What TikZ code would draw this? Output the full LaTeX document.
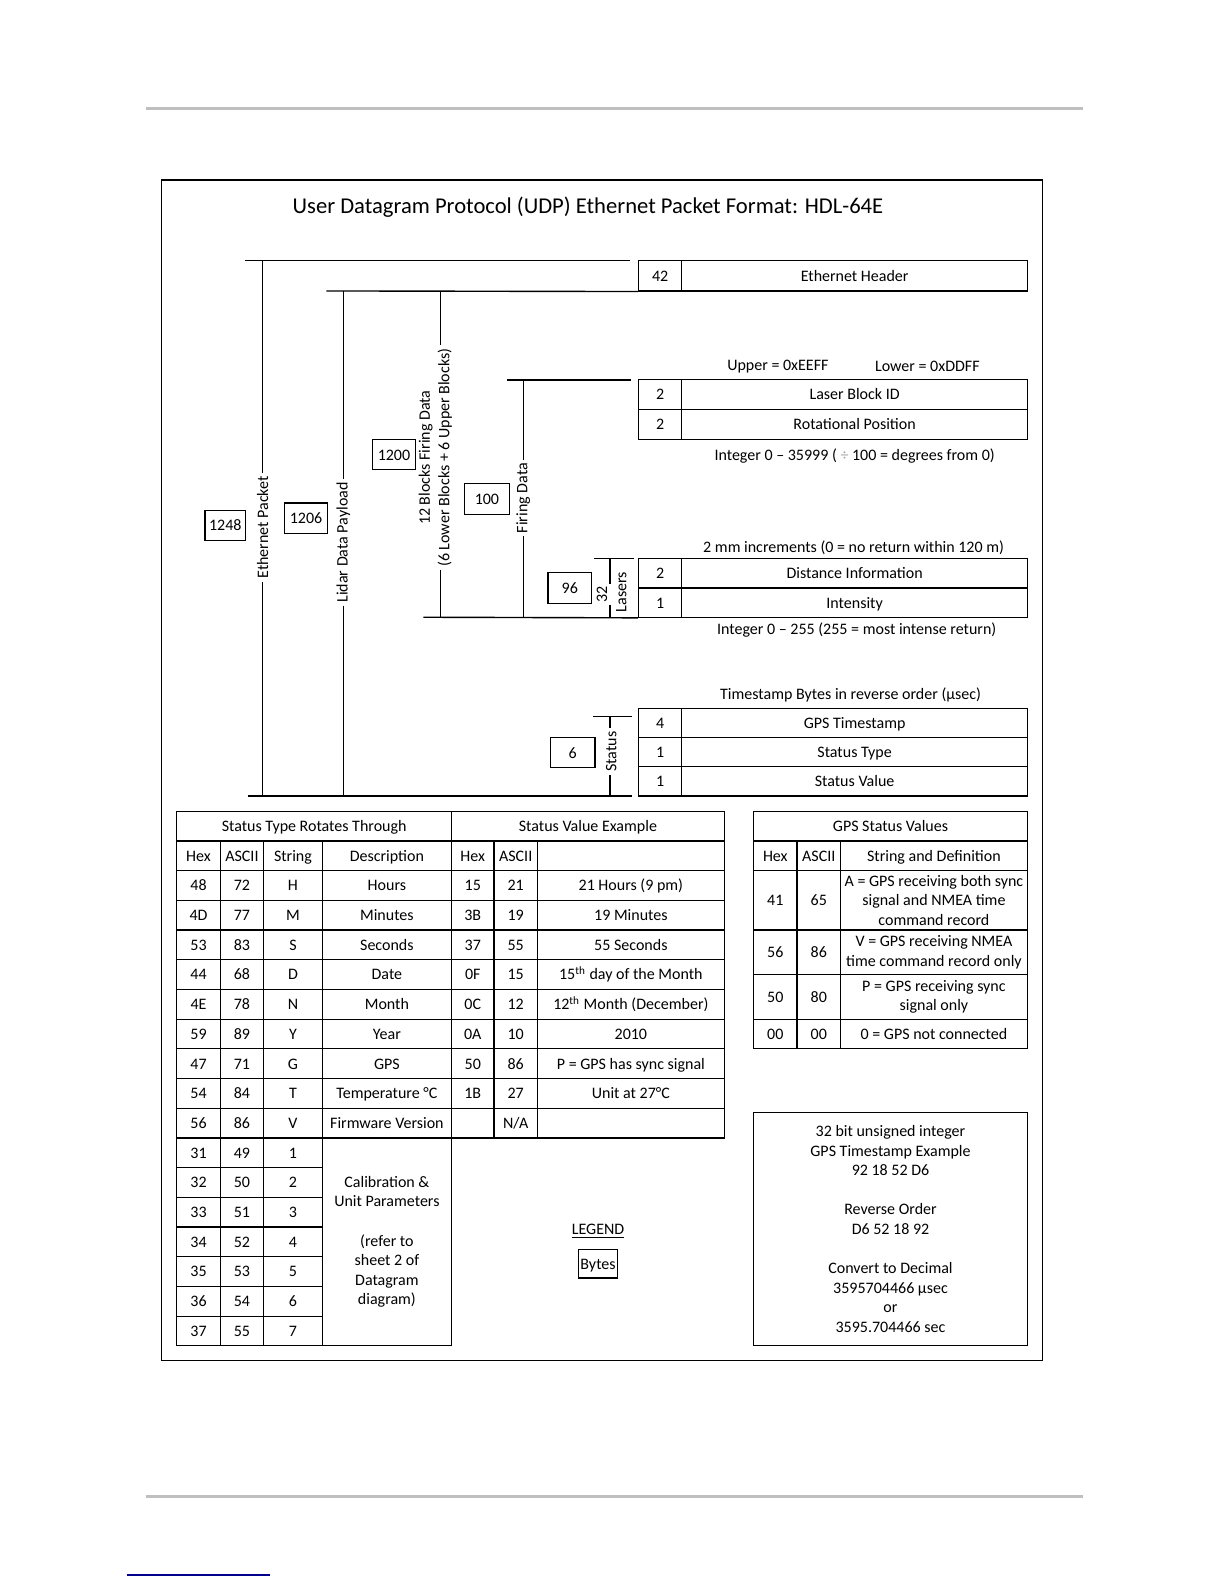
\documentclass[tikz,border=0pt]{standalone}
\usepackage{fontspec}
\setmainfont{Carlito}
\newcommand\fs{\fontsize{8bp}{9.8bp}\selectfont}
\newcommand\mycell[6]{\node[tcell, minimum width={((#4)-(#2))*0.505bp}, minimum height={((#5)-(#3))*0.505bp}] (#1) at ({((#2)+(#4))/2},{((#3)+(#5))/2}) {#6};}
\newcommand\mcell[6]{\node[tcellm, minimum width={((#4)-(#2))*0.505bp}, minimum height={((#5)-(#3))*0.505bp}] (#1) at ({((#2)+(#4))/2},{((#3)+(#5))/2}) {#6};}
\newcommand\trow[8]{%
\pgfmathsetmacro\ya{803+29.4*#1}%
\pgfmathsetmacro\yb{803+29.4*(#1+1)}%
\mycell{r#1a}{175}{\ya}{218}{\yb}{#2}%
\mycell{r#1b}{218}{\ya}{261}{\yb}{#3}%
\mycell{r#1c}{261}{\ya}{319}{\yb}{#4}%
\mycell{r#1d}{319}{\ya}{447}{\yb}{#5}%
\mycell{r#1e}{447}{\ya}{489}{\yb}{#6}%
\mycell{r#1f}{489}{\ya}{532}{\yb}{#7}%
\mycell{r#1g}{532}{\ya}{717}{\yb}{#8}%
}
\newcommand\srow[4]{%
\pgfmathsetmacro\ya{803+29.4*#1}%
\pgfmathsetmacro\yb{803+29.4*(#1+1)}%
\mycell{r#1a}{175}{\ya}{218}{\yb}{#2}%
\mycell{r#1b}{218}{\ya}{261}{\yb}{#3}%
\mycell{r#1c}{261}{\ya}{319}{\yb}{#4}%
}
\begin{document}
\begin{tikzpicture}[x=0.505bp,y=-0.505bp,
  tcellm/.style={draw, line width=0.6pt, inner sep=0pt, align=center, font=\fs},
  tcell/.style={tcellm, text height=6.6bp, text depth=1.2bp},
  lbl/.style={font=\fs, inner sep=0pt, align=center},
  conn/.style={line width=0.7pt},
  rlbl/.style={font=\fs, rotate=90, inner sep=1.5pt, align=center},
  numbox/.style={draw, line width=0.6pt, font=\fs, inner sep=0pt, minimum height={30*0.505bp}, text height=6.6bp, text depth=1.2bp},
  rule/.style={color=black!25, line width=1.4bp}]
\fill[white] (0,0) rectangle (1212,1568);
\useasboundingbox (0,0) rectangle (1212,1568);

% page rules
\coordinate (hr1) at (145,107); \coordinate (hr2) at (1072,107);
\coordinate (fr1) at (145,1481); \coordinate (fr2) at (1072,1481);
\coordinate (bl1) at (126,1559); \coordinate (bl2) at (267,1559);
\draw[rule] (hr1) -- (hr2);
\draw[rule] (fr1) -- (fr2);
\draw[color=blue!55!black, line width=1bp] (bl1) -- (bl2);

% frame and title
\node[draw, line width=0.7pt, inner sep=0pt, minimum width={872*0.505bp}, minimum height={1169*0.505bp}] (frame) at (596,762.5) {};
\node[font=\fontsize{11.3bp}{13bp}\selectfont, inner sep=0pt] (title) at (582,205) {User Datagram Protocol (UDP) Ethernet Packet Format: HDL-64E};

% right-hand field tables
\mycell{eb}{632}{258}{675}{288}{42}
\mycell{eh}{675}{258}{1017}{288}{Ethernet Header}

\node[lbl] (upper) at (770,363) {Upper = 0xEEFF};
\node[lbl] (lower) at (918,363) {Lower = 0xDDFF};
\mycell{lbb}{632}{376}{675}{405}{2}
\mycell{lbt}{675}{376}{1017}{405}{Laser Block ID}
\mycell{rpb}{632}{405}{675}{435}{2}
\mycell{rpt}{675}{405}{1017}{435}{Rotational Position}
\node[lbl] (rpnote) at (846,451) {Integer 0 – 35999 ( {\color{black!35}÷} 100 = degrees from 0)};

\node[lbl] (dinote) at (845,542) {2 mm increments (0 = no return within 120 m)};
\mycell{dib}{632}{553}{675}{582}{2}
\mycell{dit}{675}{553}{1017}{582}{Distance Information}
\mycell{inb}{632}{582}{675}{611}{1}
\mycell{int}{675}{582}{1017}{611}{Intensity}
\node[lbl] (innote) at (848,624) {Integer 0 – 255 (255 = most intense return)};

\node[lbl] (tsnote) at (842,688) {Timestamp Bytes in reverse order (µsec)};
\mycell{gtb}{632}{701}{675}{730}{4}
\mycell{gtt}{675}{701}{1017}{730}{GPS Timestamp}
\mycell{stb}{632}{730}{675}{759}{1}
\mycell{stt}{675}{730}{1017}{759}{Status Type}
\mycell{svb}{632}{759}{675}{788}{1}
\mycell{svt}{675}{759}{1017}{788}{Status Value}

% byte count boxes
\node[numbox, minimum width={40*0.505bp}] (n1248) at (223,520) {1248};
\node[numbox, minimum width={43*0.505bp}] (n1206) at (303,513) {1206};
\node[numbox, minimum width={43*0.505bp}] (n1200) at (390,450) {1200};
\node[numbox, minimum width={44*0.505bp}] (n100) at (482,494) {100};
\node[numbox, minimum width={43*0.505bp}] (n96) at (564,582) {96};
\node[numbox, minimum width={44*0.505bp}] (n6) at (567,745) {6};

% bracket labels
\node[rlbl] (lep) at (260,522) {Ethernet Packet};
\node[rlbl] (lldp) at (340,537) {Lidar Data Payload};
\node[rlbl] (lblk) at (431,453) {12 Blocks Firing Data\\(6 Lower Blocks + 6 Upper Blocks)};
\node[rlbl] (lfd) at (518,493) {Firing Data};
\node[rlbl, inner sep=1pt] (l32) at (596,588) {32};
\node[rlbl, inner sep=0pt] (llas) at (615,586) {Lasers};
\node[rlbl] (lst) at (605,744) {Status};

% bracket coordinates
\coordinate (ep1) at (243,258); \coordinate (ep2) at (624,258);
\coordinate (ept) at (260,258); \coordinate (epb) at (260,788);
\coordinate (bb1) at (245,788); \coordinate (bb2) at (626,788);
\coordinate (lp1) at (323,288);
\coordinate (lpt) at (340,288); \coordinate (lpb) at (340,788);
\coordinate (bkt) at (436,288); \coordinate (bkb) at (436,611);
\coordinate (ft1) at (502,376); \coordinate (ft2) at (625,376);
\coordinate (fvt) at (518,376); \coordinate (fvb) at (518,611);
\coordinate (fb1) at (419,611);
\coordinate (lt1) at (588,553); \coordinate (lt2) at (628,553);
\coordinate (lvt) at (604,553); \coordinate (lvb) at (604,611);
\coordinate (st1) at (587,709); \coordinate (st2) at (626,709);
\coordinate (svt) at (604,709); \coordinate (svb) at (604,788);

\draw[conn] (ep1) -- (ep2);
\draw[conn] (ept) -- (lep);
\draw[conn] (lep) -- (epb);
\draw[conn] (bb1) -- (bb2);
\draw[conn] (lp1) -- (eb.south west);
\draw[conn] (lpt) -- (lldp);
\draw[conn] (lldp) -- (lpb);
\draw[conn] (bkt) -- (bkt |- lblk.east);
\draw[conn] (lblk.west -| bkb) -- (bkb);
\draw[conn] (ft1) -- (ft2);
\draw[conn] (fvt) -- (lfd);
\draw[conn] (lfd) -- (fvb);
\draw[conn] (fb1) -- (inb.south west);
\draw[conn] (lt1) -- (lt2);
\draw[conn] (lvt) -- (lvt |- l32.east);
\draw[conn] (l32.west -| lvb) -- (lvb);
\draw[conn] (st1) -- (st2);
\draw[conn] (svt) -- (svt |- lst.east);
\draw[conn] (lst.west -| svb) -- (svb);

% status type table
\mycell{h0a}{175}{803}{447}{832.4}{Status Type Rotates Through}
\mycell{h0b}{447}{803}{717}{832.4}{Status Value Example}
\trow{1}{Hex}{ASCII}{String}{Description}{Hex}{ASCII}{}
\trow{2}{48}{72}{H}{Hours}{15}{21}{21 Hours (9 pm)}
\trow{3}{4D}{77}{M}{Minutes}{3B}{19}{19 Minutes}
\trow{4}{53}{83}{S}{Seconds}{37}{55}{55 Seconds}
\trow{5}{44}{68}{D}{Date}{0F}{15}{15\textsuperscript{th} day of the Month}
\trow{6}{4E}{78}{N}{Month}{0C}{12}{12\textsuperscript{th} Month (December)}
\trow{7}{59}{89}{Y}{Year}{0A}{10}{2010}
\trow{8}{47}{71}{G}{GPS}{50}{86}{P = GPS has sync signal}
\trow{9}{54}{84}{T}{Temperature °C}{1B}{27}{Unit at 27°C}
\trow{10}{56}{86}{V}{Firmware Version}{}{N/A}{}
\srow{11}{31}{49}{1}
\srow{12}{32}{50}{2}
\srow{13}{33}{51}{3}
\srow{14}{34}{52}{4}
\srow{15}{35}{53}{5}
\srow{16}{36}{54}{6}
\srow{17}{37}{55}{7}
\mcell{calib}{319}{1126.4}{447}{1332.2}{Calibration \&\\Unit Parameters\\[9.8bp](refer to\\sheet 2 of\\Datagram\\diagram)}

% GPS status table
\mycell{g0}{746}{803}{1017}{832.4}{GPS Status Values}
\mycell{g1a}{746}{832.4}{789}{861.8}{Hex}
\mycell{g1b}{789}{832.4}{832}{861.8}{ASCII}
\mycell{g1c}{832}{832.4}{1017}{861.8}{String and Definition}
\mycell{g2a}{746}{861.8}{789}{920.6}{41}
\mycell{g2b}{789}{861.8}{832}{920.6}{65}
\mcell{g2c}{832}{861.8}{1017}{920.6}{A = GPS receiving both sync\\signal and NMEA time\\command record}
\mycell{g3a}{746}{920.6}{789}{964.5}{56}
\mycell{g3b}{789}{920.6}{832}{964.5}{86}
\mcell{g3c}{832}{920.6}{1017}{964.5}{V = GPS receiving NMEA\\time command record only}
\mycell{g4a}{746}{964.5}{789}{1008.8}{50}
\mycell{g4b}{789}{964.5}{832}{1008.8}{80}
\mcell{g4c}{832}{964.5}{1017}{1008.8}{P = GPS receiving sync\\signal only}
\mycell{g5a}{746}{1008.8}{789}{1038.2}{00}
\mycell{g5b}{789}{1008.8}{832}{1038.2}{00}
\mycell{g5c}{832}{1008.8}{1017}{1038.2}{0 = GPS not connected}

% timestamp example
\mcell{tsbox}{746}{1101}{1017}{1332}{32 bit unsigned integer\\GPS Timestamp Example\\92 18 52 D6\\[9.8bp]Reverse Order\\D6 52 18 92\\[9.8bp]Convert to Decimal\\3595704466 µsec\\or\\3595.704466 sec}

% legend
\node[lbl] (legend) at (592,1219) {\underline{LEGEND}};
\mycell{legbox}{573}{1237}{611}{1265}{Bytes}
\end{tikzpicture}
\end{document}
